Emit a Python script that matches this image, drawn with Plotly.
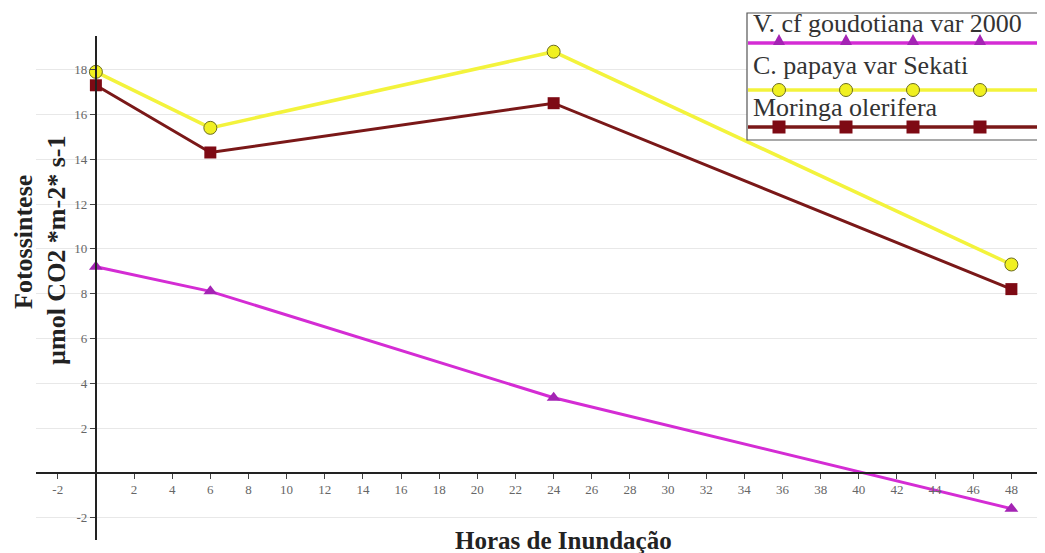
import plotly.graph_objects as go

hours = [0, 6, 24, 48]
v_goudotiana = [9.2, 8.1, 3.35, -1.6]
c_papaya = [17.9, 15.4, 18.8, 9.3]
moringa = [17.3, 14.3, 16.5, 8.2]

series_names = ["V. cf goudotiana var 2000", "C. papaya var Sekati", "Moringa olerifera"]
x_title = "Horas de Inundação"
y_title_1 = "Fotossintese"
y_title_2 = "µmol CO2 *m-2* s-1"

x_tickvals = [-2] + list(range(2, 50, 2))
y_tickvals = [-2] + list(range(2, 20, 2))

XMIN, XMAX = -3.14, 49.5
YMIN, YMAX = -3.0, 19.5

# the page body has an 8px margin; figure sized so it fills the window
OFF = 8
W, H = 1045 - OFF, 553 - OFF
ML, MR, MT, MB = 28, 5, 28, 13
PL, PT = OFF + ML, OFF + MT            # plot area left/top in window px
PW, PH = W - ML - MR, H - MT - MB


def px(x):
    return (x - PL) / PW


def py(y):
    return (PT + PH - y) / PH


colors = ["#D42CD4", "#F3F33C", "#7A1818"]
marker_colors = ["#A424B4", "#F0F020", "#7E0A14"]

fig = go.Figure()
fig.add_trace(go.Scatter(
    x=hours, y=v_goudotiana, name=series_names[0], mode="lines+markers",
    line=dict(color=colors[0], width=3),
    marker=dict(symbol="triangle-up", size=12, color=marker_colors[0], line=dict(width=0))))
fig.add_trace(go.Scatter(
    x=hours, y=c_papaya, name=series_names[1], mode="lines+markers",
    line=dict(color=colors[1], width=3.5),
    marker=dict(symbol="circle", size=13, color=marker_colors[1], line=dict(color="#6B6B20", width=1))))
fig.add_trace(go.Scatter(
    x=hours, y=moringa, name=series_names[2], mode="lines+markers",
    line=dict(color=colors[2], width=3),
    marker=dict(symbol="square", size=12, color=marker_colors[2], line=dict(width=0))))

tick_font = dict(family="Liberation Serif", size=13, color="#666666")

fig.update_layout(
    width=W, height=H,
    margin=dict(l=ML, r=MR, t=MT, b=MB),
    paper_bgcolor="white", plot_bgcolor="white",
    showlegend=False,
    xaxis=dict(
        range=[XMIN, XMAX], anchor="free", position=(0 - YMIN) / (YMAX - YMIN),
        tickvals=x_tickvals, ticktext=[str(v) for v in x_tickvals],
        ticks="outside", ticklen=5, tickcolor="#444444", tickfont=tick_font,
        showline=True, linecolor="#222222", linewidth=2,
        showgrid=False, zeroline=False,
    ),
    yaxis=dict(
        range=[YMIN, YMAX], anchor="free", position=(0 - XMIN) / (XMAX - XMIN),
        tickvals=y_tickvals, ticktext=[str(v) for v in y_tickvals],
        ticks="outside", ticklen=5, tickcolor="#444444", tickfont=tick_font,
        showline=True, linecolor="#222222", linewidth=2,
        showgrid=True, gridcolor="#E8E8E8", gridwidth=1, zeroline=False,
    ),
)

fig.add_annotation(
    text=f"<b>{x_title}</b>", xref="paper", yref="paper",
    x=px(563), y=py(540), xanchor="center", yanchor="middle", showarrow=False,
    font=dict(family="Liberation Serif", size=25, color="#222222"))
ytf = dict(family="Liberation Serif", size=26, color="#222222")
fig.add_annotation(
    text=f"<b>{y_title_1}</b>", xref="paper", yref="paper",
    x=px(23), y=py(242), xanchor="center", yanchor="middle",
    textangle=-90, showarrow=False, font=ytf)
fig.add_annotation(
    text=f"<b>{y_title_2}</b>", xref="paper", yref="paper",
    x=px(56), y=py(251), xanchor="center", yanchor="middle",
    textangle=-90, showarrow=False, font=ytf)

# ---- custom legend (text above a sample line with four markers) ----
box_l, box_r, box_t, box_b = 747, 1050, 13, 140
fig.add_shape(type="rect", xref="paper", yref="paper",
              x0=px(box_l), x1=px(box_r), y0=py(box_b), y1=py(box_t),
              line=dict(color="#555555", width=1.2), fillcolor="white", layer="above")

text_y = [23, 65, 107]
line_y = [43, 90, 127]
mk_x = [779, 846, 913, 980]
for i, name in enumerate(series_names):
    fig.add_annotation(text=name, xref="paper", yref="paper",
                       x=px(751), y=py(text_y[i]), xanchor="left", yanchor="middle",
                       showarrow=False,
                       font=dict(family="Liberation Serif", size=26, color="#333333"))
    fig.add_shape(type="line", xref="paper", yref="paper",
                  x0=px(box_l + 1), x1=px(box_r), y0=py(line_y[i]), y1=py(line_y[i]),
                  line=dict(color=colors[i], width=3.5), layer="above")
    for mx in mk_x:
        ly = line_y[i]
        if i == 0:
            path = (f"M {px(mx - 6)},{py(ly + 2)} L {px(mx + 6)},{py(ly + 2)} "
                    f"L {px(mx)},{py(ly - 9)} Z")
            fig.add_shape(type="path", xref="paper", yref="paper", path=path,
                          fillcolor=marker_colors[0], line=dict(width=0), layer="above")
        elif i == 1:
            fig.add_shape(type="circle", xref="paper", yref="paper",
                          x0=px(mx - 6.5), x1=px(mx + 6.5), y0=py(ly + 6.5), y1=py(ly - 6.5),
                          fillcolor=marker_colors[1], line=dict(color="#6B6B20", width=1),
                          layer="above")
        else:
            fig.add_shape(type="rect", xref="paper", yref="paper",
                          x0=px(mx - 6.5), x1=px(mx + 6.5), y0=py(ly + 6.5), y1=py(ly - 6.5),
                          fillcolor=marker_colors[2], line=dict(width=0), layer="above")

fig.write_html("out.html")
